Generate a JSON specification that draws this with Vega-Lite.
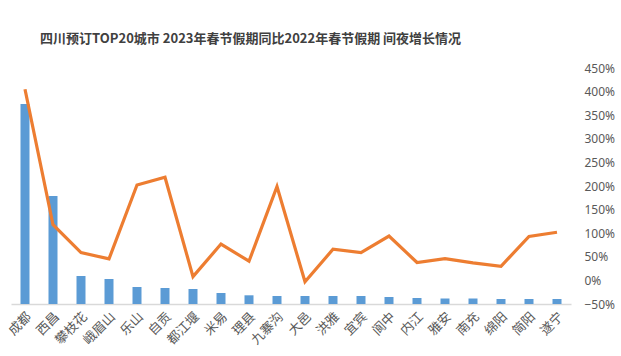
{
  "$schema": "https://vega.github.io/schema/vega-lite/v6.json",
  "autosize": {"type": "none"},
  "width": 560,
  "height": 236,
  "padding": {"left": 11, "top": 68, "right": 50, "bottom": 52},
  "background": "white",
  "title": {
    "text": "四川预订TOP20城市 2023年春节假期同比2022年春节假期 间夜增长情况",
    "anchor": "start",
    "dx": 34,
    "offset": 16,
    "font": "Noto Sans CJK SC",
    "fontSize": 13,
    "fontWeight": "bold",
    "color": "#404040"
  },
  "data": {
    "values": [
      {"城市": "成都", "间夜量": 200, "增长": 4.05},
      {"城市": "西昌", "间夜量": 108, "增长": 1.18},
      {"城市": "攀枝花", "间夜量": 28, "增长": 0.59},
      {"城市": "峨眉山", "间夜量": 25, "增长": 0.455},
      {"城市": "乐山", "间夜量": 17, "增长": 2.02},
      {"城市": "自贡", "间夜量": 16, "增长": 2.186},
      {"城市": "都江堰", "间夜量": 15, "增长": 0.08},
      {"城市": "米易", "间夜量": 11, "增长": 0.77},
      {"城市": "理县", "间夜量": 8.7, "增长": 0.406},
      {"城市": "九寨沟", "间夜量": 8, "增长": 1.99},
      {"城市": "大邑", "间夜量": 8, "增长": -0.03},
      {"城市": "洪雅", "间夜量": 8, "增长": 0.66},
      {"城市": "宜宾", "间夜量": 8, "增长": 0.59},
      {"城市": "阆中", "间夜量": 7, "增长": 0.94},
      {"城市": "内江", "间夜量": 6, "增长": 0.38},
      {"城市": "雅安", "间夜量": 5.5, "增长": 0.46},
      {"城市": "南充", "间夜量": 5.5, "增长": 0.37},
      {"城市": "绵阳", "间夜量": 5, "增长": 0.30},
      {"城市": "简阳", "间夜量": 5, "增长": 0.93},
      {"城市": "遂宁", "间夜量": 5, "增长": 1.02}
    ]
  },
  "encoding": {
    "x": {
      "field": "城市",
      "type": "nominal",
      "sort": null,
      "scale": {"paddingInner": 0, "paddingOuter": 0},
      "axis": {
        "title": null,
        "labelAngle": -45,
        "labelFont": "Noto Sans CJK SC",
        "labelFontSize": 13,
        "labelColor": "#595959",
        "labelPadding": 6,
        "ticks": false,
        "domainColor": "#d9d9d9",
        "domainWidth": 1.5,
        "grid": false
      }
    }
  },
  "layer": [
    {
      "mark": {"type": "bar", "size": 9, "color": "#5B9BD5"},
      "encoding": {
        "y": {
          "field": "间夜量",
          "type": "quantitative",
          "scale": {"domain": [0, 236]},
          "axis": null
        }
      }
    },
    {
      "mark": {"type": "line", "color": "#ED7D31", "strokeWidth": 3.2},
      "encoding": {
        "y": {
          "field": "增长",
          "type": "quantitative",
          "scale": {"domain": [-0.5, 4.5], "nice": false},
          "axis": {
            "orient": "right",
            "title": null,
            "format": ".0%",
            "values": [-0.5, 0, 0.5, 1, 1.5, 2, 2.5, 3, 3.5, 4, 4.5],
            "labelFont": "Noto Sans",
            "labelFontSize": 12,
            "labelColor": "#595959",
            "labelPadding": 13,
            "ticks": false,
            "domain": false,
            "grid": false
          }
        }
      }
    }
  ],
  "resolve": {"scale": {"y": "independent"}},
  "config": {"view": {"stroke": null}}
}
